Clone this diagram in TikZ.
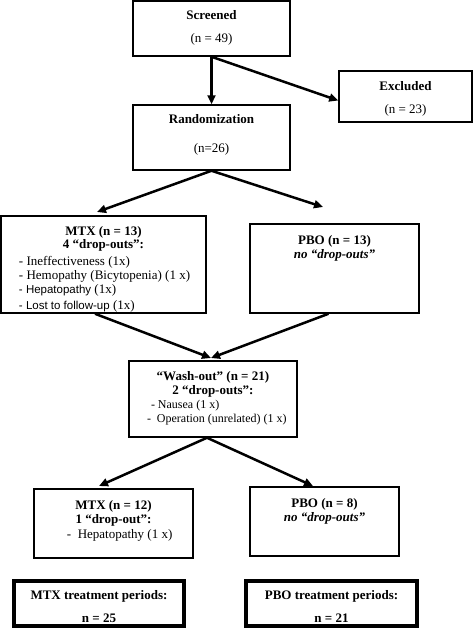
\documentclass[tikz,border=0pt]{standalone}
\usepackage{fontspec}
\setmainfont{Liberation Serif}
\setsansfont{Liberation Sans}
\usepackage{tikz}
\usetikzlibrary{positioning, calc, arrows.meta}
\tikzset{
  flowbox/.style={draw, line width=1.5pt, inner sep=0pt},
  sumbox/.style={draw, line width=3.5pt, inner sep=0pt},
  flowarrow/.style={line width=2.5pt, -{Triangle[length=9pt,width=8pt]}},
}

\begin{document}
\begin{tikzpicture}[x=1pt, y=-1pt, font=\fontsize{13}{14.5}\selectfont]
    \useasboundingbox (0,0) rectangle (473,630);

    % top of the chart
    \node[flowbox] (scr) at (211.5,28.5) {
      \begin{minipage}[c][55pt][t]{157pt}
        \vspace*{9pt}\centering\bfseries
        Screened\\[8.5pt]
        \mdseries (n = 49)
      \end{minipage}
    };
    \node[flowbox] (excl) at (405.5,96.5) {
      \begin{minipage}[c][51pt][t]{133pt}
        \vspace*{10pt}\centering\bfseries
        Excluded\\[8.5pt]
        \mdseries (n = 23)
      \end{minipage}
    };
    \node[flowbox] (rand) at (211.5,137.5) {
      \begin{minipage}[c][65pt][t]{157pt}
        \vspace*{9pt}\centering\bfseries
        Randomization\\[14.5pt]
        \mdseries (n=26)
      \end{minipage}
    };

    % first period
    \node[flowbox] (mtxA) at (103.5,264.5) {
      \begin{minipage}[c][97pt][t]{205pt}
        \vspace*{10pt}\centering\bfseries
        MTX (n = 13)\\[-1.5pt]
        4 “drop-outs”:\\[2.5pt]
        \mdseries
        \makebox[\linewidth][l]{\hspace*{18pt}- Ineffectiveness (1x)}\\
        \makebox[\linewidth][l]{\hspace*{18pt}- Hemopathy (Bicytopenia) (1 x)}\\[-0.5pt]
        \makebox[\linewidth][l]{\hspace*{18pt}{\sffamily\fontsize{11.5}{14.5}\selectfont - Hepatopathy} (1x)}\\[1pt]
        \makebox[\linewidth][l]{\hspace*{18pt}{\sffamily\fontsize{11.5}{14.5}\selectfont - Lost to follow-up} (1x)}
      \end{minipage}
    };
    \node[flowbox] (pboA) at (334.5,268.5) {
      \begin{minipage}[c][89pt][t]{169pt}
        \vspace*{11pt}\centering\bfseries
        PBO (n = 13)\\
        \itshape no “drop-outs”
      \end{minipage}
    };

    % wash-out
    \node[flowbox] (wash) at (213,399) {
      \begin{minipage}[c][76pt][t]{168pt}
        \vspace*{10pt}\centering\bfseries
        “Wash-out” (n = 21)\\[-0.5pt]
        2 “drop-outs”:\\[-0.5pt]
        \mdseries\fontsize{12}{14.5}\selectfont
        \makebox[\linewidth][l]{\hspace*{22pt}- Nausea (1 x)}\\
        \makebox[\linewidth][l]{\hspace*{18pt}-\ \ Operation (unrelated) (1 x)}
      \end{minipage}
    };

    % second period
    \node[flowbox] (mtxB) at (113.5,523.5) {
      \begin{minipage}[c][69pt][t]{159pt}
        \vspace*{11pt}\centering\bfseries
        MTX (n = 12)\\[-0.5pt]
        1 “drop-out”:\\[1pt]
        \mdseries
        \makebox[\linewidth][l]{\hspace*{33pt}-\ \ Hepatopathy (1 x)}
      \end{minipage}
    };
    \node[flowbox] (pboB) at (324.5,521.5) {
      \begin{minipage}[c][69pt][t]{149pt}
        \vspace*{11pt}\centering\bfseries
        PBO (n = 8)\\
        \itshape no “drop-outs”
      \end{minipage}
    };

    % totals
    \node[sumbox] (mtxT) at (99,603.5) {
      \begin{minipage}[c][45pt][t]{170pt}
        \vspace*{9pt}\centering\bfseries
        MTX treatment periods:\\[8.5pt]
        n = 25
      \end{minipage}
    };
    \node[sumbox] (pboT) at (331.5,603.5) {
      \begin{minipage}[c][45pt][t]{171pt}
        \vspace*{9pt}\centering\bfseries
        PBO treatment periods:\\[8.5pt]
        n = 21
      \end{minipage}
    };

    % arrow ends
    \coordinate (mtxAin) at (97,212);
    \coordinate (pboAin) at (323,207);
    \coordinate (washin) at (211,358);
    \coordinate (mtxBin) at (99,486);
    \coordinate (pboBin) at (313,486);

    \draw[flowarrow] (scr.south) -- (rand.north);
    \draw[flowarrow] (scr.south) -- ([yshift=-4pt]excl.west);
    \draw[flowarrow] (rand.south) -- (mtxAin);
    \draw[flowarrow] (rand.south) -- (pboAin);
    \draw[flowarrow] ([xshift=-8.5pt]mtxA.south) -- (washin);
    \draw[flowarrow] ([xshift=-6pt]pboA.south) -- (washin);
    \draw[flowarrow] ([xshift=-6pt]wash.south) -- (mtxBin);
    \draw[flowarrow] ([xshift=-6pt]wash.south) -- (pboBin);
  \end{tikzpicture}
\end{document}
